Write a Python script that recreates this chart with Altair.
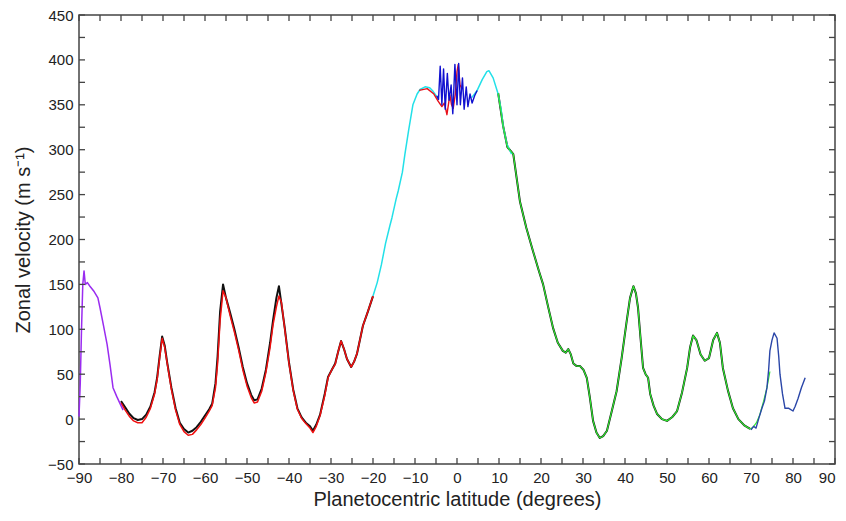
import altair as alt
import pandas as pd

# ---- Southern hemisphere: black (reference) and red profiles ----
lat_south = [-80, -79, -78, -77, -76, -75, -74, -73, -72, -71.4, -70.8, -70.2, -69.6, -69, -68, -67, -66, -65, -64, -63, -62, -61, -60, -59, -58.3, -57.5, -57, -56.4, -55.7, -55, -54, -53, -52, -51, -50, -49, -48.3, -47.5, -46.5, -45.5, -44.5, -43.8, -43, -42.4, -41.8, -41, -40, -39, -38, -37, -36, -35, -34.3, -33.5, -32.6, -31.5, -30.7, -29.8, -29, -28.3, -27.6, -26.9, -26.2, -25.2, -24.5, -23.8, -22.4, -21.2, -20]
u_south_black = [20, 13, 6, 1, -1, 0, 5, 14, 30, 46, 70, 92, 82, 63, 35, 12, -4, -11, -15, -13, -9, -3, 4, 11, 17, 40, 70, 120, 150, 135, 118, 100, 80, 58, 40, 27, 21, 22, 34, 55, 85, 110, 135, 148, 128, 101, 63, 33, 12, 2, -4, -8, -13, -6, 5, 28, 47, 55, 62, 75, 87, 78, 67, 58, 64, 73, 104, 120, 137]
u_south_red = [18, 10, 3, -2, -4, -4, 2, 12, 28, 44, 68, 90, 80, 62, 33, 10, -6, -14, -18, -17, -12, -6, 1, 9, 15, 35, 62, 110, 143, 135, 115, 97, 77, 55, 37, 24, 18, 19, 31, 52, 80, 105, 125, 137, 130, 100, 62, 32, 11, 1, -5, -10, -15, -8, 4, 26, 46, 55, 61, 75, 87, 78, 67, 58, 64, 73, 104, 120, 137]

# ---- South polar (purple) ----
lat_polar = [-90, -89.7, -89.4, -89.1, -88.8, -88.5, -88, -87.4, -86.4, -85.5, -85, -84.2, -83.3, -82.6, -81.9, -81, -80.2, -79.5]
u_polar = [3, 40, 100, 150, 165, 150, 152, 148, 142, 135, 124, 105, 83, 60, 35, 25, 17, 10]

# ---- Equatorial jet (cyan) ----
lat_cyan_s = [-20, -19, -18, -17, -16, -15.5, -14.5, -14, -13, -12.4, -11.5, -10.5, -9.5, -8.8, -7.6, -6.5, -5.7, -4.5]
u_cyan_s = [137, 152, 172, 196, 215, 224, 245, 254, 275, 295, 322, 350, 362, 367, 370, 369, 365, 357]
lat_cyan_n = [3.5, 4.8, 6, 7.1, 7.6, 8.6, 9.8, 10.5, 11, 11.9, 12.5, 13]
u_cyan_n = [358, 366, 378, 387, 388, 380, 362, 345, 326, 306, 300, 295]

# ---- Equatorial red ----
lat_eq_red = [-9, -7.1, -5.5, -4.5, -3.6, -3, -2.4, -1.7, -1.3, -0.9, -0.4, 0, 0.3, 0.7, 1.1]
u_eq_red = [366, 368, 362, 354, 348, 352, 339, 361, 350, 346, 362, 387, 395, 373, 368]

# ---- Equatorial blue (noisy) ----
lat_eq_blue = [-4.8, -4.4, -4.0, -3.6, -3.2, -2.8, -2.3, -1.9, -1.4, -1.0, -0.5, 0, 0.4, 0.8, 1.3, 1.7, 2.2, 2.6, 3.1, 3.6, 4.2, 4.8]
u_eq_blue = [360, 356, 393, 350, 390, 345, 385, 355, 372, 340, 395, 350, 396, 350, 380, 345, 370, 348, 362, 352, 360, 366]

# ---- Northern hemisphere (green over black) ----
lat_north = [9.8, 11, 12, 13.4, 15, 16.5, 18.1, 19.5, 20.5, 21.7, 22.9, 24, 25.2, 25.9, 26.5, 27.1, 27.7, 28.5, 29.3, 30.1, 30.9, 31.6, 32.4, 33.2, 34, 34.8, 35.7, 36.8, 38, 39.2, 40.4, 41.2, 42, 42.6, 43.1, 43.7, 44.3, 44.9, 45.5, 46, 46.8, 47.6, 48.8, 50, 51.2, 52.4, 53.6, 54.8, 55.5, 56.2, 57, 58, 59, 60, 61, 61.9, 62.6, 63.3, 64.5, 65.7, 67, 68.4, 69.8, 70.5, 71.3, 72.1, 73, 73.8, 74.5]
u_north = [363, 326, 303, 295, 242, 213, 187, 165, 150, 125, 101, 85, 76, 74, 78, 72, 62, 59, 59, 55, 46, 25, -2, -15, -21, -19, -13, 8, 31, 68, 109, 135, 148, 140, 124, 90, 57, 50, 46, 28, 15, 6, 0, -2, 2, 9, 30, 57, 80, 93, 88, 72, 65, 68, 88, 96, 85, 57, 32, 12, 0, -7, -11, -9, -4, 5, 20, 35, 53]

# ---- North polar (navy) ----
lat_navy = [70, 70.6, 71.2, 71.8, 72.6, 73.2, 73.8, 74.2, 74.5, 75, 75.5, 76.2, 76.6, 76.9, 77.5, 78.1, 79, 80, 80.5, 81.2, 82, 82.9]
u_navy = [-12, -8, -10, 0, 12, 20, 35, 55, 76, 88, 96, 90, 70, 50, 28, 12, 12, 9, 14, 23, 35, 46]

x_ticks = list(range(-90, 91, 5))
y_ticks = list(range(-50, 451, 25))
x_labels = list(range(-90, 91, 10))
y_labels = list(range(-50, 451, 50))

W, H = 756, 449
FONT = "Liberation Sans"

def frame(series, seg, lats, vals):
    return pd.DataFrame({"lat": lats, "u": vals, "series": series, "seg": seg})

black_n = [(a, b) for a, b in zip(lat_north, u_north) if a <= 70]
layers_data = [
    ("#111111", pd.concat([frame("black", "s", lat_south, u_south_black),
                           frame("black", "n", [a for a, _ in black_n], [b for _, b in black_n])]), 2.0),
    ("#f01010", frame("red", "s", lat_south, u_south_red), 1.5),
    ("#9a2cf0", frame("purple", "p", lat_polar, u_polar), 1.5),
    ("#22e0e8", pd.concat([frame("cyan", "s", lat_cyan_s, u_cyan_s),
                           frame("cyan", "n", lat_cyan_n, u_cyan_n)]), 1.5),
    ("#e8101a", frame("red2", "e", lat_eq_red, u_eq_red), 1.4),
    ("#1010d0", frame("blue", "e", lat_eq_blue, u_eq_blue), 1.4),
    ("#30e830", frame("green", "n", lat_north, u_north), 1.2),
    ("#2a46a8", frame("navy", "n", lat_navy, u_navy), 1.4),
]

xscale = alt.Scale(domain=[-90, 90], nice=False, zero=False)
yscale = alt.Scale(domain=[-50, 450], nice=False, zero=False)
xaxis = alt.Axis(values=x_labels, ticks=False, domain=False, grid=False, labelFlush=False,
                 labelAlign={"condition": {"test": "datum.value >= 90", "value": "right"}, "value": "center"},
                 labelFontSize=15, labelFont=FONT, labelColor="#222", labelPadding=6,
                 title="Planetocentric latitude (degrees)", titleFont=FONT, titleFontSize=20,
                 titleFontWeight="normal", titleColor="#222", titlePadding=4)
yaxis = alt.Axis(values=y_labels, ticks=False, domain=False, grid=False, labelFlush=False,
                 labelFontSize=15, labelFont=FONT, labelColor="#222", labelPadding=6,
                 title="Zonal velocity (m s⁻¹)", titleFont=FONT, titleFontSize=20,
                 titleFontWeight="normal", titleColor="#222", titlePadding=14)

X = alt.X("lat:Q", scale=xscale, axis=xaxis)
Y = alt.Y("u:Q", scale=yscale, axis=yaxis)

layers = []
for color, df, sw in layers_data:
    layers.append(
        alt.Chart(df).mark_line(color=color, strokeWidth=sw, strokeJoin="round")
        .encode(x=X, y=Y, detail="seg:N", order="lat:Q")
    )

xt = pd.DataFrame({"lat": x_ticks})
yt = pd.DataFrame({"u": y_ticks})
tick_style = dict(color="#444", strokeWidth=1.3)
layers.append(alt.Chart(xt).mark_rule(**tick_style).encode(x=X, y=alt.value(H), y2=alt.value(H - 6)))
layers.append(alt.Chart(xt).mark_rule(**tick_style).encode(x=X, y=alt.value(0), y2=alt.value(6)))
layers.append(alt.Chart(yt).mark_rule(**tick_style).encode(y=Y, x=alt.value(0), x2=alt.value(6)))
layers.append(alt.Chart(yt).mark_rule(**tick_style).encode(y=Y, x=alt.value(W), x2=alt.value(W - 6)))

chart = (
    alt.layer(*layers)
    .properties(width=W, height=H,
                autosize=alt.AutoSizeParams(type="none"),
                padding={"left": 71, "top": 7, "right": 3, "bottom": 49},
                background="white")
    .configure_view(stroke="#444", strokeWidth=1.5)
)

chart.save("out.html", embed_options={"renderer": "svg", "actions": False})
